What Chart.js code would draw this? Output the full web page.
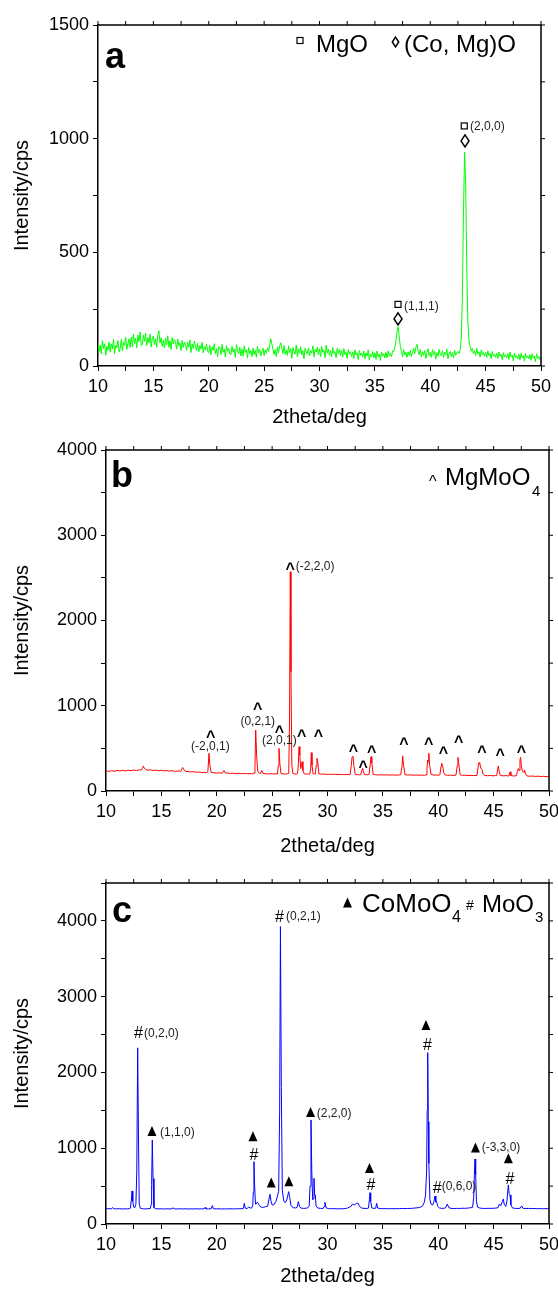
<!DOCTYPE html>
<html>
<head>
<meta charset="utf-8">
<script src="https://cdn.jsdelivr.net/npm/chart.js@4.4.1/dist/chart.umd.min.js"></script>
<style>
  body { margin: 0; background: #fff; }
  .panel { position: absolute; left: 0; }
</style>
</head>
<body>
<canvas id="chartA" class="panel" width="558" height="432" style="top:0px"></canvas>
<canvas id="chartB" class="panel" width="558" height="430" style="top:432px"></canvas>
<canvas id="chartC" class="panel" width="558" height="427" style="top:862px"></canvas>
<script>
// ---- panel a : counts every 0.1 deg from 10 to 50 ----
const startA = 10, stepA = 0.1;
const countsA = [
  104, 63, 92, 53, 112, 77, 98, 47, 87, 69,
  106, 61, 98, 75, 117, 54, 91, 80, 112, 62,
  77, 116, 66, 105, 90, 127, 73, 98, 119, 81,
  128, 85, 141, 99, 122, 80, 136, 107, 150, 90,
  94, 136, 109, 145, 89, 125, 101, 141, 83, 121,
  131, 93, 120, 82, 138, 155, 101, 125, 86, 113,
  79, 122, 93, 133, 82, 111, 73, 125, 97, 116,
  108, 74, 119, 89, 101, 68, 113, 82, 105, 92,
  69, 104, 82, 115, 59, 96, 77, 110, 88, 66,
  99, 62, 90, 75, 104, 58, 85, 70, 96, 66,
  59, 91, 50, 83, 69, 98, 54, 77, 40, 85,
  82, 50, 95, 60, 74, 39, 89, 65, 78, 54,
  49, 86, 60, 75, 38, 94, 68, 54, 83, 44,
  75, 44, 89, 59, 72, 35, 81, 54, 68, 41,
  79, 50, 68, 38, 87, 57, 74, 44, 65, 78,
  46, 71, 56, 80, 64, 90, 120, 97, 72, 50,
  72, 41, 84, 59, 88, 102, 78, 55, 90, 52,
  70, 46, 89, 58, 76, 34, 81, 63, 52, 92,
  42, 76, 56, 85, 48, 68, 32, 79, 61, 52,
  79, 44, 68, 57, 89, 39, 73, 62, 82, 49,
  76, 42, 86, 60, 70, 36, 92, 57, 74, 47,
  68, 41, 81, 55, 63, 36, 78, 54, 73, 46,
  68, 39, 77, 50, 60, 33, 73, 52, 63, 42,
  62, 33, 71, 49, 58, 28, 68, 46, 57, 39,
  66, 32, 58, 44, 71, 26, 53, 40, 63, 36,
  58, 29, 66, 40, 51, 24, 62, 43, 54, 35,
  60, 36, 67, 45, 55, 40, 66, 64, 80, 112,
  150, 173, 128, 86, 64, 40, 72, 48, 61, 38,
  62, 46, 69, 42, 59, 78, 54, 82, 95, 66,
  50, 73, 39, 63, 47, 68, 33, 58, 76, 45,
  60, 38, 72, 48, 65, 30, 59, 43, 73, 51,
  45, 67, 37, 61, 50, 75, 32, 56, 64, 42,
  59, 35, 69, 47, 58, 64, 55, 72, 120, 300,
  680, 940, 800, 420, 190, 112, 86, 66, 78, 54,
  67, 46, 78, 54, 63, 39, 71, 49, 59, 43,
  59, 37, 67, 46, 56, 32, 64, 43, 51, 38,
  56, 33, 62, 43, 51, 28, 59, 41, 48, 35,
  54, 29, 62, 40, 48, 22, 57, 38, 46, 32,
  52, 27, 56, 37, 45, 21, 55, 35, 44, 31,
  50, 25, 54, 35, 43, 19, 53, 34, 42, 29,
  40
];

// ---- panel b : [2theta, counts] ----
const patternB = [
  [10.0,236],[10.25,230],[10.5,238],[10.75,232],[11.0,240],[11.25,235],[11.5,242],[11.75,236],[12.0,244],[12.25,238],
  [12.5,246],[12.75,240],[13.0,248],[13.2,246],[13.3,268],[13.37,292],[13.45,270],[13.6,250],[13.8,244],[14.0,248],
  [14.25,240],[14.5,245],[14.75,238],[15.0,243],[15.25,236],[15.5,240],[15.75,233],[16.0,238],[16.25,230],[16.5,235],
  [16.75,232],[16.85,258],[16.92,276],[17.0,256],[17.15,232],[17.4,228],[17.65,224],[17.9,226],[18.15,220],[18.4,222],
  [18.65,216],[18.9,218],[19.1,214],[19.2,232],[19.3,442],[19.38,300],[19.5,218],[19.75,214],[20.0,210],[20.25,214],
  [20.5,208],[20.65,240],[20.78,212],[21.0,210],[21.25,206],[21.5,209],[21.75,204],[22.0,207],[22.25,203],[22.5,206],
  [22.75,202],[23.0,204],[23.25,201],[23.38,210],[23.45,290],[23.52,715],[23.6,420],[23.7,232],[23.85,208],[23.95,205],
  [24.06,240],[24.18,206],[24.4,203],[24.65,200],[24.9,203],[25.15,199],[25.35,202],[25.48,200],[25.56,300],[25.62,500],
  [25.7,320],[25.8,205],[26.0,201],[26.2,198],[26.4,202],[26.5,205],[26.57,800],[26.64,2572],[26.7,1400],[26.78,300],
  [26.88,205],[27.05,200],[27.2,198],[27.3,204],[27.37,320],[27.43,520],[27.5,420],[27.58,262],[27.65,300],[27.7,344],
  [27.78,240],[27.9,202],[28.1,198],[28.3,200],[28.4,199],[28.48,260],[28.54,450],[28.6,300],[28.7,202],[28.82,198],
  [28.9,200],[28.98,300],[29.05,383],[29.12,340],[29.22,202],[29.45,197],[29.7,199],[29.95,195],[30.2,197],[30.45,194],
  [30.7,196],[30.95,193],[31.2,195],[31.45,192],[31.7,194],[31.95,191],[32.05,194],[32.15,300],[32.22,400],[32.3,405],
  [32.38,300],[32.5,196],[32.7,192],[32.9,190],[33.0,191],[33.1,240],[33.17,266],[33.25,222],[33.35,192],[33.55,190],
  [33.75,193],[33.85,300],[33.93,403],[34.0,330],[34.12,196],[34.35,190],[34.6,188],[34.85,191],[35.1,187],[35.35,190],
  [35.6,186],[35.85,189],[36.1,186],[36.35,188],[36.6,189],[36.72,280],[36.79,411],[36.87,300],[37.0,192],[37.25,187],
  [37.5,189],[37.75,185],[38.0,188],[38.25,185],[38.5,187],[38.75,184],[38.9,190],[38.98,260],[39.05,364],[39.1,340],
  [39.15,442],[39.22,300],[39.35,196],[39.6,186],[39.85,188],[40.05,185],[40.15,190],[40.25,290],[40.31,325],[40.4,290],
  [40.5,212],[40.6,190],[40.85,184],[41.1,186],[41.35,182],[41.6,186],[41.72,300],[41.78,395],[41.85,320],[41.98,190],
  [42.2,183],[42.45,185],[42.7,181],[42.95,184],[43.2,180],[43.5,184],[43.6,280],[43.68,333],[43.75,320],[43.85,270],
  [43.95,250],[44.05,196],[44.2,183],[44.45,179],[44.7,182],[44.95,178],[45.15,181],[45.28,180],[45.36,250],[45.42,293],
  [45.5,232],[45.6,182],[45.85,178],[46.1,180],[46.3,177],[46.4,179],[46.48,225],[46.56,181],[46.8,176],[47.05,179],
  [47.15,230],[47.22,262],[47.3,240],[47.38,360],[47.43,395],[47.5,300],[47.6,232],[47.72,215],[47.8,245],[47.88,200],
  [48.0,177],[48.25,173],[48.5,176],[48.75,171],[49.0,174],[49.25,170],[49.5,172],[49.75,168],[50.0,170]
];

// ---- panel c : [2theta, counts] ----
const patternC = [
  [10.0,200],[10.25,203],[10.5,199],[10.6,218],[10.7,202],[10.95,199],[11.2,202],[11.45,198],[11.7,201],[11.95,199],
  [12.1,203],[12.2,208],[12.3,330],[12.35,436],[12.42,300],[12.5,222],[12.6,215],[12.7,260],[12.78,700],[12.86,2325],
  [12.93,1200],[13.0,262],[13.1,208],[13.3,201],[13.55,199],[13.8,202],[14.0,204],[14.08,260],[14.12,520],[14.18,1109],
  [14.25,600],[14.33,216],[14.45,203],[14.7,199],[14.95,201],[15.2,198],[15.45,201],[15.7,199],[15.95,200],[16.07,215],
  [16.15,200],[16.4,198],[16.65,201],[16.9,199],[17.15,201],[17.4,198],[17.65,200],[17.9,199],[18.15,201],[18.4,198],
  [18.65,200],[18.85,200],[18.94,218],[19.02,200],[19.25,199],[19.5,201],[19.6,242],[19.7,202],[19.95,199],[20.2,201],
  [20.45,198],[20.7,200],[20.95,199],[21.2,201],[21.45,199],[21.7,200],[21.95,202],[22.2,201],[22.4,206],[22.49,273],
  [22.58,208],[22.75,206],[22.9,225],[23.0,210],[23.15,212],[23.25,240],[23.3,420],[23.36,823],[23.42,500],[23.5,262],
  [23.58,266],[23.66,288],[23.75,272],[23.85,242],[24.0,222],[24.2,220],[24.4,228],[24.6,235],[24.72,330],[24.81,392],
  [24.9,300],[25.0,252],[25.15,252],[25.35,300],[25.5,380],[25.59,430],[25.68,1500],[25.75,3925],[25.83,1800],[25.92,450],
  [26.05,300],[26.2,282],[26.35,330],[26.49,427],[26.58,360],[26.7,242],[26.9,215],[27.1,212],[27.25,218],[27.37,295],
  [27.47,232],[27.6,210],[27.85,206],[28.05,208],[28.2,212],[28.35,240],[28.42,500],[28.51,1373],[28.58,700],[28.66,320],
  [28.72,330],[28.78,603],[28.84,380],[28.9,383],[28.97,240],[29.1,212],[29.35,206],[29.6,205],[29.7,230],[29.77,286],
  [29.88,212],[30.1,204],[30.35,201],[30.6,203],[30.85,200],[31.1,202],[31.35,201],[31.6,204],[31.8,210],[31.95,222],
  [32.1,230],[32.25,262],[32.4,250],[32.5,258],[32.6,272],[32.75,275],[32.9,232],[33.05,212],[33.3,206],[33.55,205],
  [33.7,210],[33.78,320],[33.84,413],[33.9,300],[34.0,212],[34.2,206],[34.35,208],[34.44,273],[34.53,210],[34.75,204],
  [35.0,202],[35.25,204],[35.5,201],[35.75,203],[36.0,201],[36.25,204],[36.5,202],[36.75,205],[37.0,203],[37.25,206],
  [37.5,205],[37.75,209],[38.0,212],[38.2,216],[38.4,222],[38.6,240],[38.75,292],[38.85,380],[38.95,700],[39.0,1500],
  [39.05,2262],[39.1,1350],[39.15,800],[39.25,320],[39.35,262],[39.5,250],[39.62,300],[39.71,370],[39.78,290],[39.86,295],
  [39.95,232],[40.1,212],[40.3,206],[40.5,207],[40.65,212],[40.82,264],[40.95,216],[41.15,206],[41.4,204],[41.65,206],
  [41.9,205],[42.15,208],[42.4,207],[42.65,210],[42.9,214],[43.1,220],[43.2,350],[43.26,650],[43.32,858],[43.38,650],
  [43.45,300],[43.55,222],[43.75,210],[44.0,206],[44.25,205],[44.5,207],[44.75,206],[45.0,208],[45.2,210],[45.4,216],
  [45.52,264],[45.65,242],[45.8,300],[45.88,330],[45.95,262],[46.1,232],[46.2,300],[46.33,515],[46.4,400],[46.48,383],
  [46.56,252],[46.7,212],[46.95,206],[47.2,205],[47.4,208],[47.53,238],[47.65,207],[47.9,204],[48.15,206],[48.4,203],
  [48.65,205],[48.9,202],[49.15,204],[49.4,201],[49.65,203],[50.0,202]
];

// peak markers: [symbol, 2theta, counts]  and hkl labels: [text, 2theta, counts, align]
const marksA = [['sq', 43.07, 1056], ['di', 43.14, 990], ['sq', 37.09, 271], ['di', 37.09, 207]];
const hklA = [['(2,0,0)', 43.59, 1053, 'left'], ['(1,1,1)', 37.63, 261, 'left']];

const marksB = [
  ['caret', 19.44, 680], ['caret', 23.7, 1000], ['caret', 25.65, 735], ['caret', 26.62, 2651],
  ['caret', 27.67, 684], ['caret', 29.17, 684], ['caret', 32.33, 513], ['caret', 33.23, 325],
  ['caret', 33.99, 501], ['caret', 36.91, 598], ['caret', 39.14, 598], ['caret', 40.46, 481],
  ['caret', 41.85, 618], ['caret', 43.95, 501], ['caret', 45.6, 461], ['caret', 47.5, 501]
];
const hklB = [['(-2,0,1)', 19.43, 520, 'center'], ['(0,2,1)', 23.7, 813, 'center'],
              ['(2,0,1)', 25.65, 587, 'center'], ['(-2,2,0)', 27.13, 2631, 'left']];

const marksC = [
  ['hash', 12.93, 2528], ['hash', 25.67, 4066], ['hash', 23.35, 924], ['hash', 33.93, 528],
  ['hash', 39.03, 2376], ['hash', 39.9, 486], ['hash', 46.48, 607],
  ['tri', 14.15, 1228], ['tri', 23.27, 1158], ['tri', 24.92, 548], ['tri', 26.51, 564],
  ['tri', 28.47, 1479], ['tri', 33.79, 739], ['tri', 38.89, 2627], ['tri', 43.36, 1010], ['tri', 46.33, 867]
];
const hklC = [['(0,2,0)', 13.43, 2517, 'left'], ['(0,2,1)', 26.25, 4049, 'left'], ['(1,1,0)', 14.88, 1211, 'left'],
              ['(2,2,0)', 29.03, 1461, 'left'], ['(0,6,0)', 40.31, 492, 'left'], ['(-3,3,0)', 43.92, 1013, 'left']];

const FONT = '"Liberation Sans", Arial, sans-serif';

function drawSymbol(ctx, kind, px, py, s) {
  s = s || 1;
  ctx.beginPath();
  if (kind === 'sq') {
    ctx.lineWidth = 1.2;
    ctx.strokeRect(px - 3 * s, py - 3 * s, 6 * s, 6 * s);
  } else if (kind === 'di') {
    ctx.lineWidth = 1.5;
    ctx.moveTo(px, py - 6 * s); ctx.lineTo(px + 4 * s, py);
    ctx.lineTo(px, py + 6 * s); ctx.lineTo(px - 4 * s, py);
    ctx.closePath(); ctx.stroke();
  } else if (kind === 'tri') {
    ctx.moveTo(px, py - 5 * s); ctx.lineTo(px + 4.5 * s, py + 5 * s);
    ctx.lineTo(px - 4.5 * s, py + 5 * s); ctx.closePath(); ctx.fill();
  } else if (kind === 'hash') {
    ctx.font = (16 * s) + 'px ' + FONT;
    ctx.textAlign = 'center'; ctx.textBaseline = 'alphabetic';
    ctx.fillText('#', px, py + 5.7 * s);
  } else if (kind === 'caret') {
    ctx.font = 'bold ' + (16 * s) + 'px ' + FONT;
    ctx.textAlign = 'center'; ctx.textBaseline = 'alphabetic';
    ctx.fillText('^', px, py + 8.5 * s);
  }
}

// box frame with outward ticks on top and right, plus marks, labels and legend
const decorations = {
  id: 'decorations',
  afterDraw(chart, args, opts) {
    const {ctx, chartArea: a, scales: {x, y}} = chart;
    ctx.save();
    ctx.strokeStyle = '#000';
    ctx.lineWidth = 1.5;
    ctx.beginPath();
    ctx.moveTo(a.left, a.top); ctx.lineTo(a.right, a.top); ctx.lineTo(a.right, a.bottom);
    ctx.stroke();
    ctx.lineWidth = 1;
    x.ticks.forEach(t => {
      const p = x.getPixelForValue(t.value);
      ctx.beginPath(); ctx.moveTo(p, a.top); ctx.lineTo(p, a.top - 4); ctx.stroke();
    });
    y.ticks.forEach(t => {
      const p = y.getPixelForValue(t.value);
      ctx.beginPath(); ctx.moveTo(a.right, p); ctx.lineTo(a.right + 4, p); ctx.stroke();
    });

    ctx.fillStyle = '#000';
    (opts.marks || []).forEach(([kind, vx, vy]) => {
      drawSymbol(ctx, kind, x.getPixelForValue(vx), y.getPixelForValue(vy));
    });
    ctx.fillStyle = '#222';
    ctx.font = '12px ' + FONT;
    ctx.textBaseline = 'middle';
    (opts.hkl || []).forEach(([text, vx, vy, align]) => {
      ctx.textAlign = align;
      ctx.fillText(text, x.getPixelForValue(vx), y.getPixelForValue(vy));
    });

    // panel letter and legend (pixel placement inside the frame)
    ctx.fillStyle = '#000';
    ctx.textAlign = 'left';
    ctx.textBaseline = 'alphabetic';
    (opts.legend || []).forEach(item => {
      if (item.sym) {
        drawSymbol(ctx, item.sym, item.x, item.y, item.s);
      } else {
        ctx.font = item.font + ' ' + FONT;
        ctx.fillText(item.text, item.x, item.y);
      }
    });
    ctx.restore();
  }
};

function makePanel(id, points, color, cfg) {
  return new Chart(document.getElementById(id), {
    type: 'line',
    data: { datasets: [{ data: points, borderColor: color, borderWidth: 1, pointRadius: 0, tension: 0 }] },
    options: {
      responsive: false,
      animation: false,
      events: [],
      layout: { padding: { top: cfg.padTop, right: cfg.padRight, bottom: 0, left: 0 } },
      plugins: {
        legend: { display: false },
        tooltip: { enabled: false },
        decorations: { marks: cfg.marks, hkl: cfg.hkl, legend: cfg.legend }
      },
      scales: {
        x: {
          type: 'linear', min: 10, max: 50,
          afterFit: s => { s.height = cfg.xHeight; s.paddingLeft = 0; s.paddingRight = 0; },
          ticks: { stepSize: 2.5, autoSkip: false, maxRotation: 0, padding: 5, color: '#000',
                   font: { size: 18, family: FONT }, callback: v => v % 5 === 0 ? v : '' },
          grid: { drawOnChartArea: false, tickLength: 5, color: '#000', lineWidth: 1 },
          border: { color: '#000', width: 1.5 },
          title: { display: true, text: '2theta/deg', color: '#000', font: { size: 20, family: FONT },
                   padding: { top: 0, bottom: cfg.titlePad } }
        },
        y: {
          type: 'linear', min: 0, max: cfg.yMax,
          afterFit: s => { s.width = cfg.yWidth; },
          ticks: { stepSize: cfg.yStep / 2, autoSkip: false, padding: 4, color: '#000',
                   font: { size: 18, family: FONT }, callback: v => v % cfg.yStep === 0 ? v : '' },
          grid: { drawOnChartArea: false, tickLength: 5, color: '#000', lineWidth: 1 },
          border: { color: '#000', width: 1.5 },
          title: { display: true, text: 'Intensity/cps', color: '#000', font: { size: 20, family: FONT },
                   padding: { top: 10, bottom: 0 } }
        }
      }
    },
    plugins: [decorations]
  });
}

makePanel('chartA', countsA.map((c, i) => ({ x: startA + i * stepA, y: c })), '#00ff00', {
  padTop: 25, padRight: 17, xHeight: 66, yWidth: 98, yMax: 1500, yStep: 500, titlePad: 3,
  marks: marksA, hkl: hklA,
  legend: [
    { text: 'a', font: 'bold 36px', x: 105, y: 68 },
    { sym: 'sq', x: 300, y: 40.5, s: 1 },
    { text: 'MgO', font: '24px', x: 316, y: 52 },
    { sym: 'di', x: 395.5, y: 42, s: 0.8 },
    { text: '(Co, Mg)O', font: '24px', x: 404, y: 52 }
  ]
});

makePanel('chartB', patternB.map(([t, c]) => ({ x: t, y: c })), '#ff0000', {
  padTop: 18, padRight: 9, xHeight: 71, yWidth: 106, yMax: 4000, yStep: 1000, titlePad: 4,
  marks: marksB, hkl: hklB,
  legend: [
    { text: 'b', font: 'bold 36px', x: 111, y: 55 },
    { text: '^', font: '16px', x: 429, y: 55 },
    { text: 'MgMoO', font: '24px', x: 445, y: 53 },
    { text: '4', font: '15px', x: 532, y: 64 }
  ]
});

makePanel('chartC', patternC.map(([t, c]) => ({ x: t, y: c })), '#0000ff', {
  padTop: 21, padRight: 9, xHeight: 65, yWidth: 106, yMax: 4500, yStep: 1000, titlePad: 1,
  marks: marksC, hkl: hklC,
  legend: [
    { text: 'c', font: 'bold 36px', x: 112, y: 60 },
    { sym: 'tri', x: 347.5, y: 40.5, s: 1 },
    { text: 'CoMoO', font: '26px', x: 362, y: 50 },
    { text: '4', font: '16px', x: 452, y: 60 },
    { text: '#', font: '14px', x: 466, y: 48 },
    { text: 'MoO', font: '24px', x: 482, y: 50 },
    { text: '3', font: '15px', x: 535, y: 60 }
  ]
});
</script>
</body>
</html>
